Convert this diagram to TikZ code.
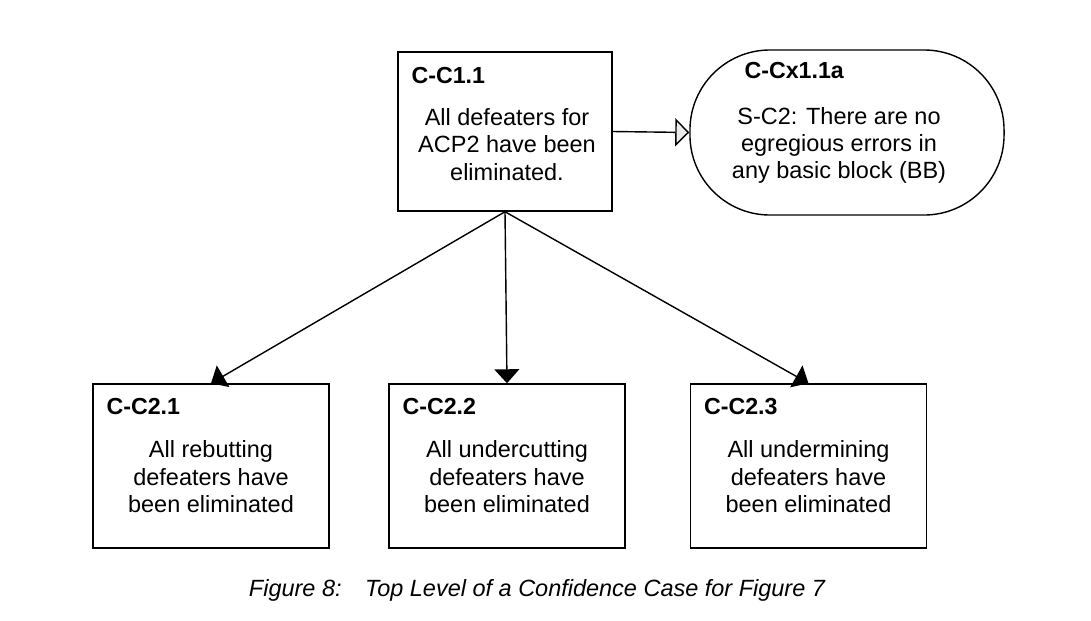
\documentclass[tikz,border=0pt]{standalone}
\usepackage{fontspec}
\setmainfont{Liberation Sans}
\usetikzlibrary{arrows.meta,positioning}
\tikzset{
  >={Triangle[length=0.35cm,width=0.62cm]}
}

\begin{document}
\begin{tikzpicture}[x=0.025cm,y=-0.025cm,
  goal/.style={draw=black,line width=1pt,minimum width=5.9cm,minimum height=4.1cm,inner sep=0pt},
  ctx/.style={draw=black,line width=1pt,rounded corners=2cm,minimum width=7.85cm,minimum height=4.125cm,inner sep=0pt},
  tag/.style={font=\bfseries\fontsize{16.5}{19.5}\selectfont,anchor=north west,inner sep=0pt},
  body/.style={font=\fontsize{16.7}{19.5}\selectfont,align=center,inner sep=0pt}]
        \useasboundingbox (0,0) rectangle (1091,620);

        \node (C11) at (505,131.5) [goal,minimum width=5.35cm,minimum height=3.975cm] {};
        \node (X11) at (847,132.5) [ctx] {};
        \node (C21) at (211,466) [goal] {};
        \node (C22) at (507,466) [goal] {};
        \node (C23) at (808.5,466) [goal] {};

        \node (T11) at ([shift={(14,16)}]C11.north west) [tag] {C-C1.1};
        \node (TX11) at ([shift={(55,13)}]X11.north west) [tag] {C-Cx1.1a};
        \node (T21) at ([shift={(14,15)}]C21.north west) [tag] {C-C2.1};
        \node (T22) at ([shift={(14,15)}]C22.north west) [tag] {C-C2.2};
        \node (T23) at ([shift={(14,15)}]C23.north west) [tag] {C-C2.3};

        \node (B11) at ([shift={(2,13)}]C11.center) [body] {All defeaters for\\ACP2 have been\\eliminated.};
        \node (BX11) at ([shift={(-8,13)}]X11.center) [body] {S-C2: There are no\\egregious errors in\\any basic block (BB)};
        \node (B21) at ([shift={(0,11)}]C21.center) [body] {All rebutting\\defeaters have\\been eliminated};
        \node (B22) at ([shift={(0,11)}]C22.center) [body] {All undercutting\\defeaters have\\been eliminated};
        \node (B23) at ([shift={(0,11)}]C23.center) [body] {All undermining\\defeaters have\\been eliminated};

        \draw[line width=1pt,-{Triangle[length=0.35cm,width=0.7cm,fill=gray!15]}] (C11.east) -- (X11.west);
        \draw[line width=1pt,->] (C11.south) -- (C21.north);
        \draw[line width=1pt,->] (C11.south) -- (C22.north);
        \draw[line width=1pt,->] (C11.south) -- (C23.north);

        \node (cap) at (537,590) [font=\itshape\fontsize{16.7}{19}\selectfont] {Figure 8:\hspace{1em}Top Level of a Confidence Case for Figure 7};
    \end{tikzpicture}
\end{document}
